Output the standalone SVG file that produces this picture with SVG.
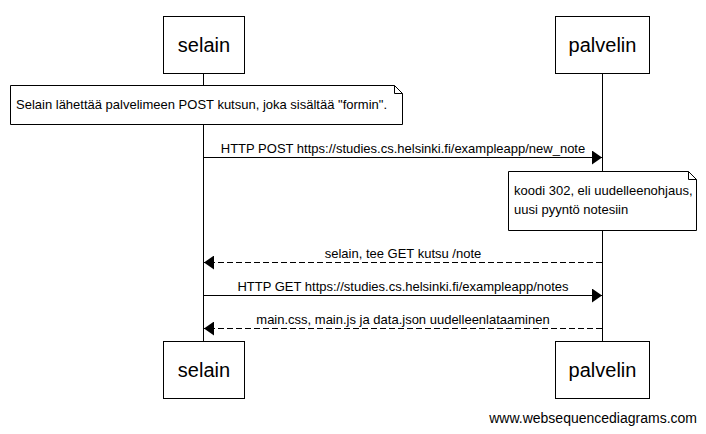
<svg xmlns="http://www.w3.org/2000/svg" width="706" height="434" viewBox="0 0 706 434">
<defs>
<style>
.box{fill:#fff;stroke:#000;stroke-width:1}
.life{stroke:#000;stroke-width:1}
.pt{font-family:"Liberation Sans",Arial,sans-serif;font-size:20px;fill:#000;text-anchor:middle}
.msg{font-family:"Liberation Sans",Arial,sans-serif;font-size:13px;fill:#000;text-anchor:middle}
.nt{font-family:"Liberation Sans",Arial,sans-serif;font-size:13px;fill:#000}
.solid{stroke:#000;stroke-width:1;fill:none}
.dash{stroke:#000;stroke-width:1;fill:none;stroke-dasharray:6,3}
.wm{font-family:"Liberation Sans",Arial,sans-serif;font-size:14px;fill:#000;text-anchor:end}
</style>
<marker id="ah" viewBox="0 0 10 14" refX="10" refY="7" markerWidth="10" markerHeight="14" markerUnits="userSpaceOnUse" orient="auto">
<path d="M0,0 L10,7 L0,14 Z" fill="#000"/>
</marker>
</defs>
<rect width="706" height="434" fill="#fff"/>
<g id="lifelines">
<line class="life" x1="203.5" y1="73" x2="203.5" y2="342"/>
<line class="life" x1="602.5" y1="73" x2="602.5" y2="342"/>
</g>
<g id="selain-top">
<rect class="box" x="163.5" y="16.5" width="81" height="57"/>
<text class="pt" x="204" y="52">selain</text>
</g>
<g id="palvelin-top">
<rect class="box" x="555.5" y="16.5" width="94" height="57"/>
<text class="pt" x="602.5" y="52">palvelin</text>
</g>
<g id="note1">
<path class="box" d="M10.5,85.5 H394.5 L402.5,93.5 V124.5 H10.5 Z"/>
<path class="solid" d="M394.5,85.5 V93.5 H402.5"/>
<text class="nt" x="16" y="109">Selain lähettää palvelimeen POST kutsun, joka sisältää "formin".</text>
</g>
<g id="note2">
<path class="box" d="M508.5,171.5 H688.5 L696.5,179.5 V230.5 H508.5 Z"/>
<path class="solid" d="M688.5,171.5 V179.5 H696.5"/>
<text class="nt" x="514" y="195">koodi 302, eli uudelleenohjaus,</text>
<text class="nt" x="514" y="214">uusi pyyntö notesiin</text>
</g>
<g id="connectors">
<line class="solid" x1="204" y1="157.5" x2="602" y2="157.5" marker-end="url(#ah)"/>
<text class="msg" x="403" y="153">HTTP POST https://studies.cs.helsinki.fi/exampleapp/new_note</text>
<line class="dash" x1="602" y1="262.5" x2="204" y2="262.5" marker-end="url(#ah)"/>
<text class="msg" x="403" y="258">selain, tee GET kutsu /note</text>
<line class="solid" x1="204" y1="295.5" x2="602" y2="295.5" marker-end="url(#ah)"/>
<text class="msg" x="403" y="291">HTTP GET https://studies.cs.helsinki.fi/exampleapp/notes</text>
<line class="dash" x1="602" y1="328.5" x2="204" y2="328.5" marker-end="url(#ah)"/>
<text class="msg" x="403" y="324">main.css, main.js ja data.json uudelleenlataaminen</text>
</g>
<g id="selain-bottom">
<rect class="box" x="163.5" y="341.5" width="81" height="57"/>
<text class="pt" x="204" y="377">selain</text>
</g>
<g id="palvelin-bottom">
<rect class="box" x="555.5" y="341.5" width="94" height="57"/>
<text class="pt" x="602.5" y="377">palvelin</text>
</g>
<text class="wm" x="697" y="423">www.websequencediagrams.com</text>
</svg>
